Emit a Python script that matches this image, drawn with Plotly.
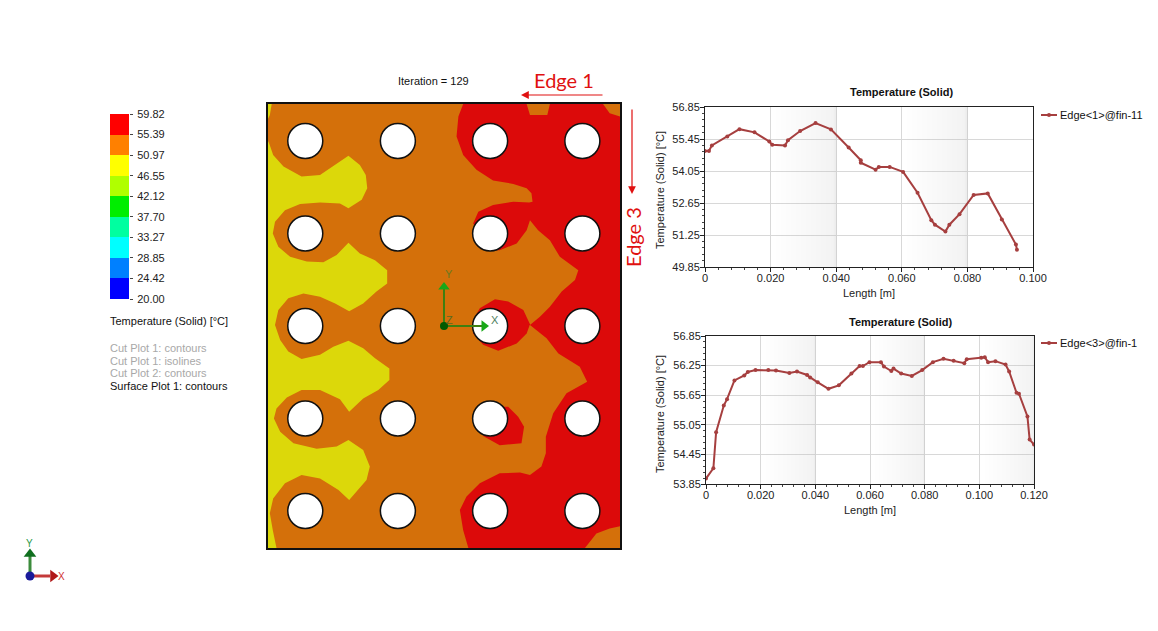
import plotly.graph_objects as go

# edge 1 temperature profile
edge1_len = [0, 0.0012, 0.0021, 0.0068, 0.0105, 0.0151, 0.0196, 0.0205, 0.0244, 0.0253, 0.0290, 0.0337, 0.0384,
             0.0438, 0.0475, 0.0475, 0.0520, 0.0530, 0.0563, 0.0604, 0.0648, 0.0690, 0.0701, 0.0733, 0.0745,
             0.0776, 0.0819, 0.0862, 0.0905, 0.0948, 0.0951]
edge1_temp = [54.93, 54.93, 55.17, 55.56, 55.88, 55.74, 55.34, 55.20, 55.17, 55.40, 55.80, 56.15, 55.87,
              55.08, 54.52, 54.41, 54.11, 54.23, 54.23, 54.01, 53.10, 51.90, 51.70, 51.40, 51.70,
              52.16, 53.00, 53.07, 51.93, 50.83, 50.61]

# edge 3 temperature profile
edge3_len = [0, 0.0027, 0.0037, 0.0065, 0.0077, 0.0104, 0.0140, 0.0153, 0.0181, 0.0228, 0.0256, 0.0305, 0.0333,
             0.0370, 0.0381, 0.0409, 0.0448, 0.0486, 0.0532, 0.0562, 0.0574, 0.0598, 0.0640, 0.0651, 0.0678,
             0.0686, 0.0714, 0.0753, 0.0791, 0.0830, 0.0869, 0.0906, 0.0945, 0.0954, 0.1007, 0.1020, 0.1032,
             0.1059, 0.1096, 0.1109, 0.1136, 0.1145, 0.1176, 0.1184, 0.1200]
edge3_temp = [53.96, 54.17, 54.90, 55.44, 55.57, 55.95, 56.05, 56.12, 56.16, 56.16, 56.15, 56.10, 56.13,
              56.06, 56.01, 55.91, 55.78, 55.85, 56.09, 56.24, 56.24, 56.32, 56.32, 56.23, 56.14,
              56.19, 56.09, 56.04, 56.16, 56.32, 56.39, 56.35, 56.30, 56.38, 56.41, 56.42, 56.32,
              56.34, 56.27, 56.13, 55.70, 55.68, 55.22, 54.75, 54.65]

chart1_yticks = [49.85, 51.25, 52.65, 54.05, 55.45, 56.85]
chart2_yticks = [53.85, 54.45, 55.05, 55.65, 56.25, 56.85]
chart1_xticks = [0, 0.02, 0.04, 0.06, 0.08, 0.10]
chart1_xlabels = ["0", "0.020", "0.040", "0.060", "0.080", "0.100"]
chart2_xticks = [0, 0.02, 0.04, 0.06, 0.08, 0.10, 0.12]
chart2_xlabels = ["0", "0.020", "0.040", "0.060", "0.080", "0.100", "0.120"]
chart1_bands = [0.02, 0.06]
chart2_bands = [0.02, 0.06, 0.10]

# colour scale
scale_values = [20.00, 24.42, 28.85, 33.27, 37.70, 42.12, 46.55, 50.97, 55.39, 59.82]
scale_labels = ["20.00", "24.42", "28.85", "33.27", "37.70", "42.12", "46.55", "50.97", "55.39", "59.82"]
scale_colors = ["#0000ff", "#0080ff", "#00ffff", "#00ffa0", "#00ee00", "#b0ff00", "#ffff00", "#ff8000", "#ff0000"]

# fin plate in mm, y measured down from the top edge
plate_x = [0, 95.4, 95.4, 0]
plate_y = [0, 0, 120, 120]

hole_x = [10.1, 35.2, 60.2, 85.2] * 5
hole_y = [10] * 4 + [35] * 4 + [60] * 4 + [85] * 4 + [110] * 4

yellow_x = [0.3, 1.4, 4.2, 9.1, 14.1, 18.2, 21.8, 24.9, 26.5, 26.9, 25.4, 21.8, 19.5, 14.1, 8.7, 4.6, 1.9, 1.3,
            2.8, 6.0, 10.5, 15.0, 18.6, 21.8, 24.9, 29.0, 32.3, 32.3, 29.4, 25.8, 22.0, 18.2, 14.1, 9.6, 5.5,
            2.8, 2.2, 1.9, 3.3, 5.5, 9.1, 14.1, 17.7, 21.8, 25.8, 29.0, 32.9, 32.9, 29.9, 25.8, 22.0, 19.5,
            14.1, 9.1, 5.1, 2.3, 1.6, 3.3, 6.9, 13.2, 18.6, 21.8, 25.8, 27.6, 26.7, 24.0, 22.0, 19.1, 14.1,
            9.1, 4.6, 1.4, 0.5, 1.3, 2.3, 0, 0]
yellow_y = [10.6, 13.8, 16.9, 19.6, 19.2, 16.5, 14.0, 16.5, 19.2, 22.8, 25.9, 28.2, 26.9, 26.6, 27.0, 28.7, 31.8, 35.0,
            38.6, 41.3, 42.6, 42.8, 40.8, 37.5, 40.4, 42.2, 44.9, 48.5, 50.7, 53.9, 56.0, 53.9, 52.1, 51.2, 52.5,
            55.7, 58.4, 59.7, 63.8, 66.9, 68.9, 67.8, 65.6, 64.0, 66.0, 68.7, 71.5, 74.6, 77.3, 79.6, 83.2, 79.8,
            77.3, 77.3, 79.3, 82.3, 85.0, 88.6, 91.7, 93.2, 92.6, 90.8, 93.5, 98.0, 101.6, 104.8, 107.0, 104.3, 101.2,
            100.3, 102.5, 106.6, 110.6, 115.2, 120, 120, 10]
yellow_corner_x = [0, 1.0, 0.5, 0]
yellow_corner_y = [0, 0, 3, 4]

red_x = [52.9, 51.6, 51.1, 52.9, 56.5, 61.0, 66.5, 70.1, 71.4, 71.7, 70.8, 66.5, 61.0, 57.0, 55.6, 60.1, 62.8, 67.4,
         70.1, 71.0, 73.2, 76.4, 79.1, 84.1, 83.2, 79.6, 76.4, 73.7, 71.0, 75.5, 78.7, 84.5, 86.5, 80.9, 77.3,
         75.3, 75.3, 74.1, 71.0, 68.3, 62.8, 57.4, 53.8, 52.0, 52.9, 54.3, 85.9, 89.0, 92.6, 95.4, 95.4, 92.6,
         90.8, 76.4, 75.7, 71.0, 70.1]
red_y = [0, 3.4, 8.8, 13.8, 17.8, 20.7, 21.6, 22.8, 24.1, 26.4, 26.6, 26.4, 27.3, 29.1, 32.3, 39.5, 39.5, 37.7,
         34.1, 31.4, 34.1, 36.8, 41.3, 44.9, 47.6, 50.7, 54.8, 57.5, 59.7, 63.3, 67.4, 71.0, 75.1, 78.2, 83.6,
         89.9, 94.4, 98.0, 100.3, 99.6, 99.8, 102.5, 106.1, 109.7, 115.2, 120, 120, 116.1, 114.7, 114.1, 3.4, 2.5,
         0, 0, 3.0, 3.0, 0]
red_lobe1_x = [55.6, 57.4, 61.5, 65.1, 69.2, 70.5, 71.0, 70.1, 67.4, 62.4, 58.3, 55.6]
red_lobe1_y = [58.4, 55.2, 52.8, 53.4, 55.7, 58.4, 59.5, 62.0, 64.7, 66.7, 65.1, 62.0]
red_lobe2_x = [62.8, 65.1, 67.8, 69.4, 68.7, 62.8, 58.3, 60.1]
red_lobe2_y = [81.8, 81.8, 84.5, 87.2, 91.7, 92.2, 89.7, 86.3]

FONT = "Liberation Sans"
W, H = 1158, 631
ORANGE = "#d4700a"
YELLOW = "#dcd80a"
RED = "#dc0a0a"
LINE = "#a63f3f"
SHADE = [[0, "rgba(190,190,190,0)"], [0.25, "rgba(190,190,190,0)"], [1, "rgba(190,190,190,0.28)"]]


def xdom(a, b):
    return [a / W, b / W]


def ydom(top, bottom):
    return [1 - bottom / H, 1 - top / H]


fig = go.Figure()

# contour panel
for px_, py_, col in [(plate_x, plate_y, ORANGE), (yellow_x, yellow_y, YELLOW),
                      (yellow_corner_x, yellow_corner_y, YELLOW), (red_x, red_y, RED),
                      (red_lobe1_x, red_lobe1_y, RED), (red_lobe2_x, red_lobe2_y, RED)]:
    fig.add_trace(go.Scatter(x=px_, y=py_, fill="toself", fillcolor=col, mode="lines", line=dict(width=0),
                             xaxis="x3", yaxis="y3", showlegend=False, hoverinfo="skip"))
fig.add_trace(go.Scatter(x=hole_x, y=hole_y, mode="markers", xaxis="x3", yaxis="y3", showlegend=False,
                         marker=dict(size=35, color="white", line=dict(color="#111111", width=1.5))))

# shaded bands behind the line charts, grid stays visible through them
for starts, xa, ya, ylo, yhi in [(chart1_bands, "x", "y", 49.85, 56.85), (chart2_bands, "x2", "y2", 53.85, 56.85)]:
    for s in starts:
        fig.add_trace(go.Heatmap(x=[s, s + 0.001, s + 0.019, s + 0.02], y=[ylo, (ylo + yhi) / 2, yhi],
                                 z=[[0, 0.5, 1], [0, 0.5, 1]], zsmooth="best", zmin=0, zmax=1, colorscale=SHADE,
                                 showscale=False, hoverinfo="skip", xaxis=xa, yaxis=ya))

fig.add_trace(go.Scatter(x=edge1_len, y=edge1_temp, mode="lines+markers", name="Edge&lt;1&gt;@fin-11",
                         line=dict(color=LINE, width=2), marker=dict(color=LINE, size=4), showlegend=False))
fig.add_trace(go.Scatter(x=edge3_len, y=edge3_temp, mode="lines+markers", name="Edge&lt;3&gt;@fin-1",
                         line=dict(color=LINE, width=2), marker=dict(color=LINE, size=4), xaxis="x2", yaxis="y2",
                         showlegend=False))

# colour bar
fig.add_trace(go.Heatmap(x=[0, 1], y=scale_values, z=[[i] for i in range(len(scale_colors))], zmin=0,
                         zmax=len(scale_colors) - 1, showscale=False, hoverinfo="skip",
                         colorscale=[[i / (len(scale_colors) - 1), c] for i, c in enumerate(scale_colors)],
                         xaxis="x4", yaxis="y4"))


def decor(x, y, mode="lines", **kw):
    # anything placed by page position goes on the overlay axis
    fig.add_trace(go.Scatter(x=x, y=y, mode=mode, xaxis="x5", yaxis="y5", showlegend=False, hoverinfo="skip", **kw))


# legend keys
decor([1041, 1057], [115, 115], line=dict(color=LINE, width=2))
decor([1041, 1057], [343, 343], line=dict(color=LINE, width=2))
decor([1049, 1049], [115, 343], mode="markers", marker=dict(color=LINE, size=4))

# triad on the plate
decor([444, 444], [326, 289], line=dict(color="#3f7f10", width=2))
decor([444, 482], [326, 326], line=dict(color="#3f7f10", width=2))
decor([444], [287], mode="markers", marker=dict(symbol="triangle-up", color="#18a818", size=10))
decor([484], [326], mode="markers", marker=dict(symbol="triangle-right", color="#18a818", size=10))
decor([444], [326], mode="markers", marker=dict(color="#005a00", size=8))

# triad bottom left
decor([30, 30], [576, 555], line=dict(color="#3c8c3c", width=3))
decor([30, 50], [576, 576], line=dict(color="#c43a3a", width=3))
decor([30], [554], mode="markers", marker=dict(symbol="triangle-up", color="#0f6f1f", size=11))
decor([53], [576], mode="markers", marker=dict(symbol="triangle-right", color="#b01818", size=11))
decor([30], [576], mode="markers", marker=dict(color="#1a1a9a", size=9))


def label(x, y, text, size=11, color="#111111", anchor="left", angle=0, family=FONT, bold=False):
    if bold:
        text = "<b>" + text + "</b>"
    fig.add_annotation(x=x, y=y, xref="x5", yref="y5", text=text, showarrow=False, xanchor=anchor, yanchor="middle",
                       textangle=angle, font=dict(family=family, size=size, color=color))


def arrow(x0, y0, x1, y1, color, width=1.5, head=1.0):
    fig.add_annotation(x=x1, y=y1, ax=x0, ay=y0, xref="x5", yref="y5", axref="x5", ayref="y5", text="",
                       showarrow=True, arrowhead=2, arrowsize=head, arrowwidth=width, arrowcolor=color)


label(108, 321, "Temperature (Solid) [°C]")
label(108, 348, "Cut Plot 1: contours", color="#a8a8a8")
label(108, 361, "Cut Plot 1: isolines", color="#a8a8a8")
label(108, 373, "Cut Plot 2: contours", color="#a8a8a8")
label(108, 386, "Surface Plot 1: contours")
label(433, 81, "Iteration = 129", anchor="center")
label(564, 80, "Edge 1", size=20, color="#e01010", anchor="center", family="Lato")
label(633, 237, "Edge 3", size=20, color="#e01010", anchor="center", angle=-90, family="Lato")
arrow(604, 95, 521, 95, "#e01010", width=1.2, head=1.3)
arrow(632, 108, 632, 194, "#e01010", width=1.2, head=1.3)
label(901, 92, "Temperature (Solid)", anchor="center", bold=True)
label(900, 322, "Temperature (Solid)", anchor="center", bold=True)
label(1058, 115, "Edge&lt;1&gt;@fin-11")
label(1058, 343, "Edge&lt;3&gt;@fin-1")
label(660, 190, "Temperature (Solid) [°C]", color="#222222", anchor="center", angle=-90)
label(660, 414, "Temperature (Solid) [°C]", color="#222222", anchor="center", angle=-90)

label(449, 274, "Y", color="#6b7a20", anchor="center")
label(495, 320, "X", color="#4f7f60", anchor="center")
label(449, 320, "Z", color="#5a6a20", anchor="center")
label(29, 543, "Y", size=10, color="#2a9a4a", anchor="center")
label(61, 576, "X", size=10, color="#d03030", anchor="center")

tick_font = dict(family=FONT, size=11, color="#222222")
title_font = dict(family=FONT, size=11, color="#222222")


def chart_x(dom, top_range, tickvals, ticktext, anchor):
    return dict(domain=dom, range=top_range, anchor=anchor, tickmode="array", tickvals=tickvals, ticktext=ticktext,
                tickfont=tick_font, ticks="outside", ticklen=4, tickcolor="#222222", ticklabelstandoff=-3,
                showline=True, mirror=True, linecolor="#222222", linewidth=1, showgrid=True, gridcolor="#d8d8d8",
                gridwidth=1, zeroline=False, title=dict(text="Length [m]", font=title_font, standoff=6),
                minor=dict(ticks="outside", ticklen=2, dtick=0.004, tickcolor="#444444", showgrid=False))


def chart_y(dom, y_range, tickvals, anchor, minor_step, minor_start):
    return dict(domain=dom, range=y_range, anchor=anchor, tickmode="array", tickvals=tickvals,
                ticktext=["%.2f" % v for v in tickvals], tickfont=tick_font, ticks="outside", ticklen=4,
                ticklabelstandoff=-2, tickcolor="#222222", showline=True, mirror=True, linecolor="#222222",
                linewidth=1, showgrid=True, gridcolor="#d8d8d8", gridwidth=1, zeroline=False,
                minor=dict(ticks="outside", ticklen=2, dtick=minor_step, tick0=minor_start, tickcolor="#444444",
                           showgrid=False))


hidden = dict(visible=False, showgrid=False, zeroline=False)

fig.update_layout(
    width=W, height=H, margin=dict(l=0, r=0, t=0, b=0, autoexpand=False), paper_bgcolor="white",
    plot_bgcolor="rgba(0,0,0,0)", showlegend=False, font=dict(family=FONT, size=11),
    xaxis=chart_x(xdom(705, 1033), [0, 0.100], chart1_xticks, chart1_xlabels, "y"),
    yaxis=chart_y(ydom(107, 267), [49.85, 56.85], chart1_yticks, "x", 0.28, 49.85),
    xaxis2=chart_x(xdom(706, 1034), [0, 0.120], chart2_xticks, chart2_xlabels, "y2"),
    yaxis2=chart_y(ydom(336, 484), [53.85, 56.85], chart2_yticks, "x2", 0.12, 53.85),
    xaxis3=dict(domain=xdom(268, 620), range=[0, 95.4], anchor="y3", visible=True, showticklabels=False, ticks="",
                showgrid=False, zeroline=False, showline=True, mirror=True, linecolor="#111111", linewidth=1.5),
    yaxis3=dict(domain=ydom(104, 548), range=[120, 0], anchor="x3", visible=True, showticklabels=False, ticks="",
                showgrid=False, zeroline=False, showline=True, mirror=True, linecolor="#111111", linewidth=1.5),
    xaxis4=dict(domain=xdom(110, 129), range=[0, 1], anchor="y4", visible=False),
    yaxis4=dict(domain=ydom(114, 299), range=[20, 59.82], anchor="x4", side="right", tickmode="array",
                tickvals=scale_values, ticktext=scale_labels, ticks="outside", ticklen=3, tickfont=tick_font,
                ticklabelstandoff=2, showgrid=False, zeroline=False, showline=False, position=129 / W),
    xaxis5=dict(domain=[0, 1], range=[0, W], anchor="y5", **hidden),
    yaxis5=dict(domain=[0, 1], range=[H, 0], anchor="x5", **hidden),
)

fig.write_html("out.html", config={"displayModeBar": False}, post_script="document.body.style.margin='0';")
